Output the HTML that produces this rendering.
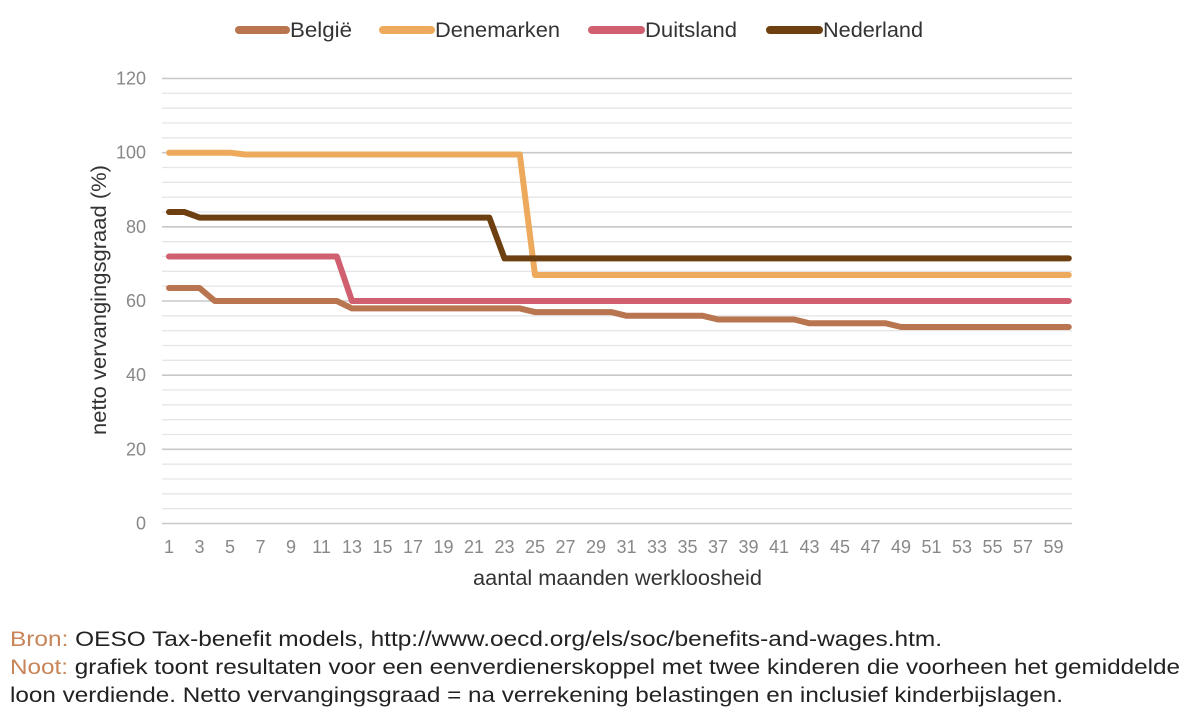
<!DOCTYPE html>
<html><head><meta charset="utf-8"><style>
body{margin:0;background:#fff;font-family:"Liberation Sans",sans-serif;}
</style></head><body>
<svg id="s" width="1200" height="720" xmlns="http://www.w3.org/2000/svg" font-family="Liberation Sans, sans-serif">
<g id="grid"></g>
<g id="lines" fill="none" stroke-width="6" stroke-linejoin="round" stroke-linecap="round"></g>
<g font-size="21" fill="#333">
<line x1="239" y1="30" x2="286" y2="30" stroke="#b87550" stroke-width="8" stroke-linecap="round"/><text x="290" y="37" textLength="62" lengthAdjust="spacingAndGlyphs">België</text>
<line x1="383" y1="30" x2="431" y2="30" stroke="#eeaa5c" stroke-width="8" stroke-linecap="round"/><text x="435" y="37" textLength="125" lengthAdjust="spacingAndGlyphs">Denemarken</text>
<line x1="592" y1="30" x2="641" y2="30" stroke="#d06070" stroke-width="8" stroke-linecap="round"/><text x="645" y="37" textLength="92" lengthAdjust="spacingAndGlyphs">Duitsland</text>
<line x1="770" y1="30" x2="819" y2="30" stroke="#6e3f10" stroke-width="8" stroke-linecap="round"/><text x="823" y="37" textLength="100" lengthAdjust="spacingAndGlyphs">Nederland</text>
</g>
<text transform="translate(106,300) rotate(-90)" text-anchor="middle" font-size="21" fill="#333" textLength="270" lengthAdjust="spacingAndGlyphs">netto vervangingsgraad (%)</text>
<text x="473" y="585" font-size="21" fill="#333" textLength="289" lengthAdjust="spacingAndGlyphs">aantal maanden werkloosheid</text>
<g font-size="21" fill="#222">
<text x="10" y="646" textLength="932" lengthAdjust="spacingAndGlyphs"><tspan fill="#c8855a">Bron:</tspan> OESO Tax-benefit models, http://www.oecd.org/els/soc/benefits-and-wages.htm.</text>
<text x="10" y="674" textLength="1170" lengthAdjust="spacingAndGlyphs"><tspan fill="#c8855a">Noot:</tspan> grafiek toont resultaten voor een eenverdienerskoppel met twee kinderen die voorheen het gemiddelde</text>
<text x="10" y="702" textLength="1053" lengthAdjust="spacingAndGlyphs">loon verdiende. Netto vervangingsgraad = na verrekening belastingen en inclusief kinderbijslagen.</text>
</g>
</svg>
<script>
const Y=v=>523.5-v*3.7083, X=m=>169+(m-1)*15.25;
const g=document.getElementById('grid');
let h='';
for(let v=0;v<=120;v+=4){const y=Y(v);const maj=v%20==0;
h+=`<line x1="162" x2="1072" y1="${y}" y2="${y}" stroke="${maj?'#c8c8c8':'#e6e6e6'}" stroke-width="${maj?1.6:1.3}"/>`;
if(maj)h+=`<text x="146" y="${y+6}" text-anchor="end" font-size="18" fill="#888">${v}</text>`;}
for(let m=1;m<=59;m+=2)h+=`<text x="${X(m)}" y="553" text-anchor="middle" font-size="18" fill="#888">${m}</text>`;
g.innerHTML=h;
function f(fn){let p=[];for(let m=1;m<=60;m++)p.push(X(m).toFixed(1)+','+Y(fn(m)).toFixed(1));return p.join(' ');}
const series=[
['#b87550',m=>m<=3?63.5:m<=12?60:m<=24?58:m<=30?57:m<=36?56:m<=42?55:m<=48?54:53],
['#eeaa5c',m=>m<=5?100:m<=24?99.5:67],
['#d06070',m=>m<=12?72:60],
['#6e3f10',m=>m<=2?84:m<=22?82.5:71.5]];
let l='';
for(const [c,fn] of series)l+=`<polyline points="${f(fn)}" stroke="${c}"/>`;
document.getElementById('lines').innerHTML=l;
</script>
</body></html>
